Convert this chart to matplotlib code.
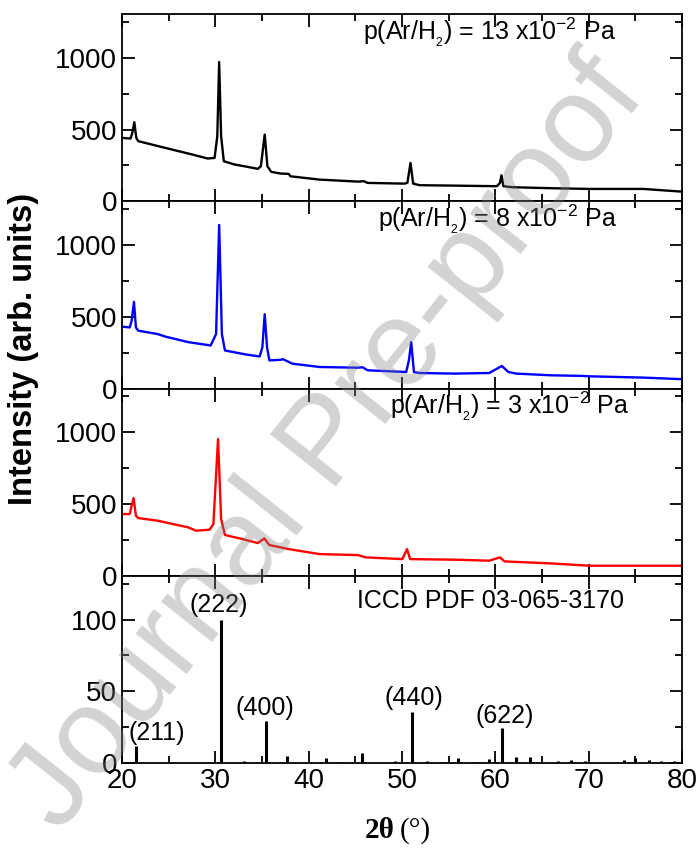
import matplotlib
matplotlib.use('Agg')
import matplotlib.pyplot as plt
from matplotlib.ticker import MultipleLocator

plt.rcParams['font.family'] = ['Liberation Sans', 'DejaVu Sans']
plt.rcParams['mathtext.fontset'] = 'custom'
plt.rcParams['mathtext.rm'] = 'Liberation Sans'
plt.rcParams['mathtext.it'] = 'Liberation Sans:italic'

# XRD patterns (2theta, intensity)
tt_13 = [20.0, 20.91, 21.12, 21.32, 21.53, 21.74, 24.63, 27.52, 29.17, 29.92, 30.21, 30.41, 30.62,
         30.91, 32.07, 33.10, 34.55, 34.88, 35.29, 35.58, 35.99, 37.02, 37.85, 38.06, 41.16, 45.29,
         45.91, 46.32, 50.25, 50.58, 50.91, 51.20, 51.90, 55.62, 60.17, 60.50, 60.66, 60.87, 61.82,
         65.95, 70.08, 75.87, 80.0]
int_13 = [442, 437, 480, 551, 442, 419, 372, 326, 298, 302, 453, 970, 453,
          279, 256, 244, 226, 244, 465, 244, 205, 193, 191, 174, 151, 137,
          140, 128, 123, 128, 267, 123, 112, 109, 105, 128, 181, 105, 98,
          91, 86, 86, 67]

tt_8 = [20.0, 20.83, 21.03, 21.28, 21.49, 21.74, 23.80, 24.63, 27.11, 29.50, 30.08, 30.41, 30.70,
        31.03, 32.48, 33.31, 34.75, 35.04, 35.29, 35.54, 35.79, 37.02, 37.23, 38.26, 41.16, 45.29,
        45.78, 46.32, 50.45, 50.74, 50.99, 51.28, 51.90, 55.62, 59.34, 60.17, 60.70, 61.40, 62.23,
        65.95, 69.26, 70.08, 75.87, 80.0]
int_8 = [431, 426, 472, 604, 426, 403, 380, 362, 323, 300, 380, 1140, 380,
         265, 247, 237, 223, 288, 518, 288, 196, 200, 205, 173, 150, 145,
         148, 127, 115, 196, 323, 115, 108, 104, 108, 138, 157, 115, 104,
         92, 88, 85, 76, 65]

tt_3 = [20.0, 20.83, 21.03, 21.24, 21.49, 21.74, 23.80, 27.11, 27.93, 29.38, 29.79, 30.29, 30.62,
        31.03, 32.89, 34.55, 35.25, 35.79, 37.85, 41.16, 45.29, 46.12, 50.04, 50.54, 50.87, 55.62,
        59.34, 60.50, 60.99, 65.95, 70.08, 80.0]
int_3 = [430, 430, 488, 542, 419, 402, 384, 337, 314, 321, 360, 953, 395,
         284, 256, 228, 260, 214, 186, 151, 144, 128, 116, 186, 116, 112,
         105, 128, 100, 86, 70, 70]

# reference card ICCD PDF 03-065-3170
pdf_tt = [21.5, 30.58, 33.1, 35.46, 37.7, 41.85, 43.7, 45.7, 49.3, 51.04, 52.7, 54.4, 55.95,
          57.6, 59.3, 60.68, 62.2, 63.7, 66.7, 68.1, 69.6, 73.8, 75.0, 76.5, 77.8, 79.2]
pdf_int = [12, 100, 1.5, 29, 4.7, 3.5, 1, 6.7, 1.5, 35.6, 1.5, 1, 3.5,
           1, 2.8, 24.4, 4.4, 4.4, 1.5, 2, 1.6, 1.8, 3.5, 2.3, 1.5, 1.5]
hkl = ['(211)', '(222)', '(400)', '(440)', '(622)']
hkl_x = [23.7, 30.4, 35.3, 51.3, 61.0]
hkl_y = [21, 110, 38, 45.6, 32.8]

patterns = [(tt_13, int_13, 'black', r'p(Ar/H$_{_2}$) = 13 x10$^{-2}$ Pa', 0.43),
            (tt_8, int_8, 'blue', r'p(Ar/H$_{_2}$) = 8 x10$^{-2}$ Pa', 0.457),
            (tt_3, int_3, 'red', r'p(Ar/H$_{_2}$) = 3 x10$^{-2}$ Pa', 0.479)]

fig, axes = plt.subplots(4, 1, sharex=True, figsize=(6.98, 8.55), dpi=100,
                         gridspec_kw={'hspace': 0})
fig.subplots_adjust(left=0.1748, right=0.977, top=0.9836, bottom=0.1076)

for ax, (x, y, c, lab, lx) in zip(axes[:3], patterns):
    ax.plot(x, y, color=c, lw=1.7)
    ax.set_ylim(0, 1305)
    ax.yaxis.set_major_locator(MultipleLocator(500))
    ax.yaxis.set_minor_locator(MultipleLocator(250))
    ax.text(lx, 0.905, lab, transform=ax.transAxes, fontsize=18, va='center')

ax = axes[3]
ax.vlines(pdf_tt, 0, pdf_int, color='black', lw=2.2)
for t, px, py in zip(hkl, hkl_x, hkl_y):
    ax.text(px, py, t, fontsize=18, ha='center', va='center')
ax.text(0.42, 0.866, 'ICCD PDF 03-065-3170', transform=ax.transAxes, fontsize=18, va='center')
ax.set_ylim(0, 130.5)
ax.yaxis.set_major_locator(MultipleLocator(50))
ax.yaxis.set_minor_locator(MultipleLocator(25))

for ax in axes:
    ax.set_xlim(20, 80)
    ax.xaxis.set_major_locator(MultipleLocator(10))
    ax.xaxis.set_minor_locator(MultipleLocator(5))
    ax.tick_params(which='both', direction='in', top=True, right=True, labelsize=20, width=1.3)
    ax.tick_params(which='major', length=9)
    ax.tick_params(which='minor', length=5)
    for s in ax.spines.values():
        s.set_linewidth(1.3)

fig.text(0.033, 0.592, 'Intensity (arb. units)', rotation=90, fontsize=23.5,
         fontweight='bold', ha='center', va='center')
fig.text(0.566, 0.029, '2θ', family='Liberation Serif', fontweight='bold', fontsize=21,
         ha='right', va='center')
fig.text(0.572, 0.029, '(°)', family='Liberation Serif', fontsize=21, ha='left', va='center')

# watermark
fig.text(0.47, 0.48, 'Journal Pre-proof', fontsize=88, rotation=51.5, color='gray', alpha=0.35,
         ha='center', va='center', zorder=10)

fig.savefig('out.png', dpi=100)
